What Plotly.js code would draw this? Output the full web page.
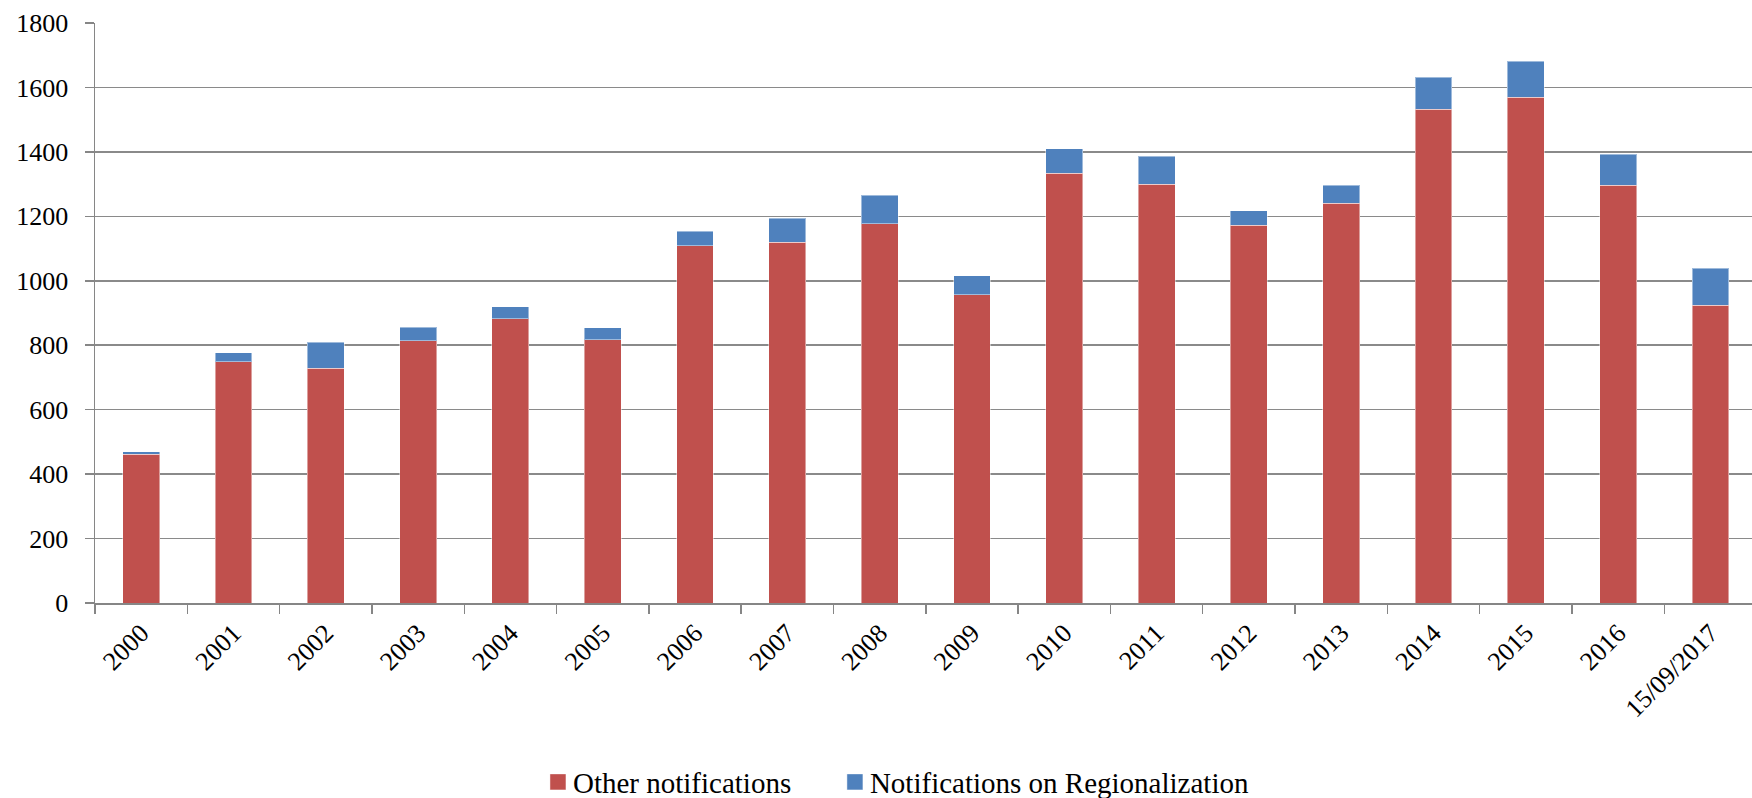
<!DOCTYPE html>
<html>
<head>
<meta charset="utf-8">
<script src="https://cdn.plot.ly/plotly-3.0.1.min.js"></script>
<style>html,body{margin:0;padding:0;background:#fff;}#chart{width:1752px;height:798px;}</style>
</head>
<body>
<div id="chart"></div>
<script>
const categories = ["2000","2001","2002","2003","2004","2005","2006","2007","2008","2009","2010","2011","2012","2013","2014","2015","2016","15/09/2017"];
const otherNotifications = [462, 748, 728, 814, 882, 817, 1109, 1120, 1177, 957, 1333, 1300, 1172, 1241, 1533, 1569, 1297, 924];
const regionalizationNotifications = [7, 29, 82, 42, 38, 38, 45, 74, 89, 58, 77, 87, 45, 56, 99, 113, 95, 115];
const yTicks = [0, 200, 400, 600, 800, 1000, 1200, 1400, 1600, 1800];

const fontFam = '"Liberation Serif", "DejaVu Serif", serif';

const traces = [
  {
    type: 'bar', name: 'Other notifications', x: categories, y: otherNotifications,
    marker: {color: '#C0504D', line: {color: 'rgba(255,255,255,0.45)', width: 1}},
    legend: 'legend'
  },
  {
    type: 'bar', name: 'Notifications on Regionalization', x: categories, y: regionalizationNotifications,
    marker: {color: '#4F81BD', line: {color: 'rgba(255,255,255,0.45)', width: 1}},
    legend: 'legend2'
  }
];

const legendBase = {
  orientation: 'h', xanchor: 'left', xref: 'container',
  y: 0.02, yanchor: 'middle', yref: 'container',
  font: {family: fontFam, size: 29, color: '#000'},
  itemwidth: 30, bgcolor: 'rgba(0,0,0,0)'
};

const layout = {
  width: 1752, height: 798,
  barmode: 'stack',
  bargap: 0.6,
  paper_bgcolor: '#ffffff', plot_bgcolor: '#ffffff',
  margin: {l: 95, r: 0, t: 23, b: 195, pad: 0},
  font: {family: fontFam, size: 26, color: '#000000'},
  showlegend: true,
  legend: Object.assign({}, legendBase, {x: 0.3042}),
  legend2: Object.assign({}, legendBase, {x: 0.4737}),
  xaxis: {
    type: 'category',
    range: [-0.5, 17.45],
    tickangle: -45,
    tickson: 'boundaries',
    ticks: 'outside', ticklen: 9, tickcolor: '#868686', tickwidth: 1.5,
    ticklabelstandoff: 3,
    showline: true, linecolor: '#868686', linewidth: 1.5,
    showgrid: false, zeroline: false,
    tickfont: {family: fontFam, size: 26, color: '#000'},
    automargin: false
  },
  yaxis: {
    range: [0, 1800],
    tickvals: yTicks, ticktext: yTicks.map(String),
    ticks: 'outside', ticklen: 9, tickcolor: '#868686', tickwidth: 1.5,
    ticklabelstandoff: 11,
    showline: true, linecolor: '#868686', linewidth: 1.5,
    showgrid: true, gridcolor: '#8a8a8a', gridwidth: 1.5,
    zeroline: false,
    tickfont: {family: fontFam, size: 26, color: '#000'},
    automargin: false
  }
};

Plotly.newPlot('chart', traces, layout, {displayModeBar: false, staticPlot: true}).then(function (gd) {
  // bigger legend swatches, set close to the text as in the reference
  gd.querySelectorAll('.legendpoints path').forEach(function (p) {
    p.setAttribute('d', 'M13,8H-3V-8H13Z');
  });
});
</script>
</body>
</html>
